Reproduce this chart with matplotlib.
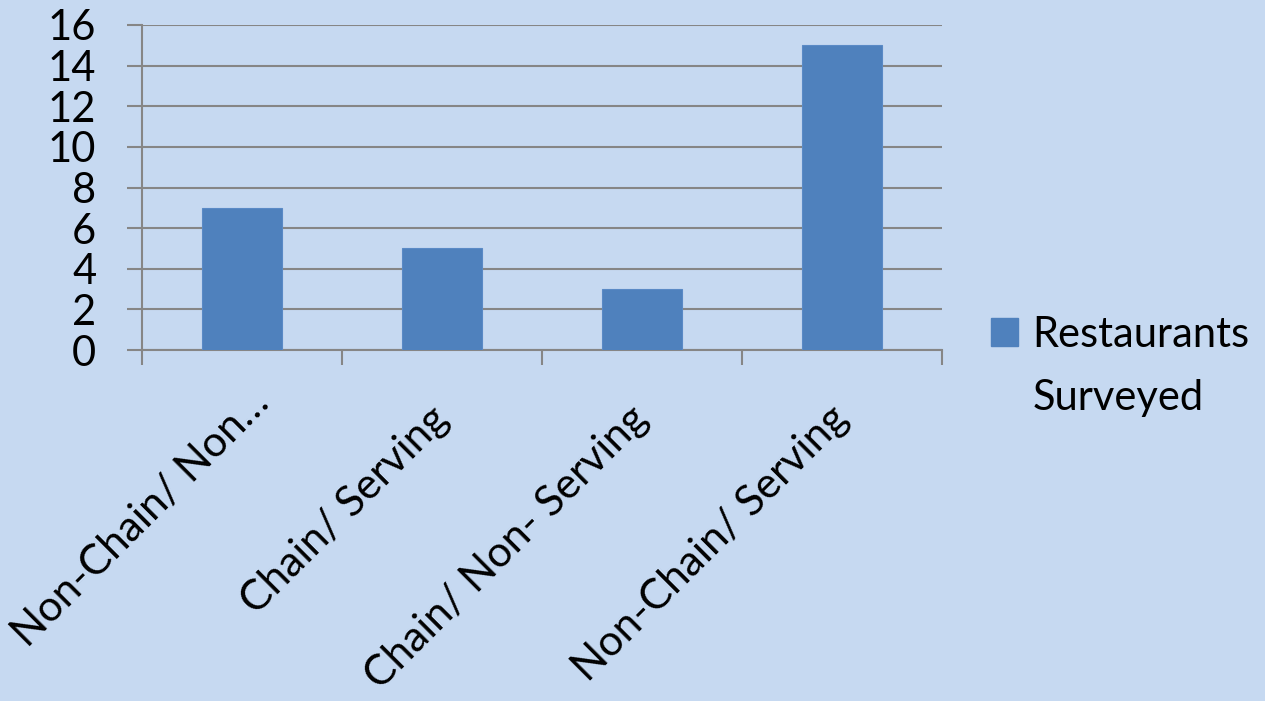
import matplotlib
matplotlib.use("Agg")
import matplotlib.pyplot as plt
import matplotlib.transforms as mtransforms
from matplotlib.patches import Patch

categories = ["Non-Chain/ Non\u2026", "Chain/ Serving", "Chain/ Non- Serving", "Non-Chain/ Serving"]
restaurants = [7, 5, 3, 15]
y_ticks = [0, 2, 4, 6, 8, 10, 12, 14, 16]
legend_lines = ["Restaurants", "Surveyed"]

BG = "#C6D9F1"
BAR = "#4F81BD"
GRID = "#868686"

plt.rcParams["font.family"] = ["Lato", "DejaVu Sans"]

fig = plt.figure(figsize=(12.65, 7.01), dpi=100, facecolor=BG)
ax = fig.add_axes([142 / 1265, 1 - 350 / 701, 800 / 1265, 325 / 701])
ax.set_facecolor(BG)

x = list(range(len(categories)))
ax.bar(x, restaurants, width=0.4, color=BAR, edgecolor="#5A8AC6", linewidth=0.8, zorder=3)

ax.set_xlim(-0.5, len(categories) - 0.5)
ax.set_ylim(0, 16)
ax.set_yticks(y_ticks)
ax.set_yticklabels([str(v) for v in y_ticks], fontsize=30)
ax.yaxis.grid(True, color=GRID, linewidth=1.5, zorder=0)
ax.tick_params(axis="y", length=11, width=1.5, color=GRID, pad=22)

# category labels on the centres, tick marks on the boundaries
ax.set_xticks(x)
ax.set_xticklabels(categories, fontsize=30.5, rotation=45, ha="right",
                   va="center", rotation_mode="anchor")
ax.tick_params(axis="x", which="major", length=0, pad=45)
ax.set_xticks([i - 0.5 for i in range(len(categories) + 1)], minor=True)
ax.tick_params(axis="x", which="minor", length=11, width=1.5, color=GRID)

# the first label sits a bit higher in the original
lab0 = ax.get_xticklabels()[0]
lab0.set_transform(lab0.get_transform() +
                   mtransforms.ScaledTranslation(20 / 100, 16 / 100, fig.dpi_scale_trans))

for side in ["top", "right"]:
    ax.spines[side].set_visible(False)
for side in ["left", "bottom"]:
    ax.spines[side].set_color(GRID)
    ax.spines[side].set_linewidth(1.5)
ax.set_axisbelow(True)

handles = [Patch(facecolor=BAR, edgecolor=BAR), Patch(alpha=0)]
leg = fig.legend(handles, legend_lines, loc="upper left",
                 bbox_to_anchor=(991 / 1265, 1 - 316 / 701),
                 frameon=False, fontsize=30, handlelength=0.65, handleheight=0.65,
                 handletextpad=0.34, labelspacing=0.6, borderpad=0, borderaxespad=0)

fig.savefig("out.png", dpi=100, facecolor=BG)
